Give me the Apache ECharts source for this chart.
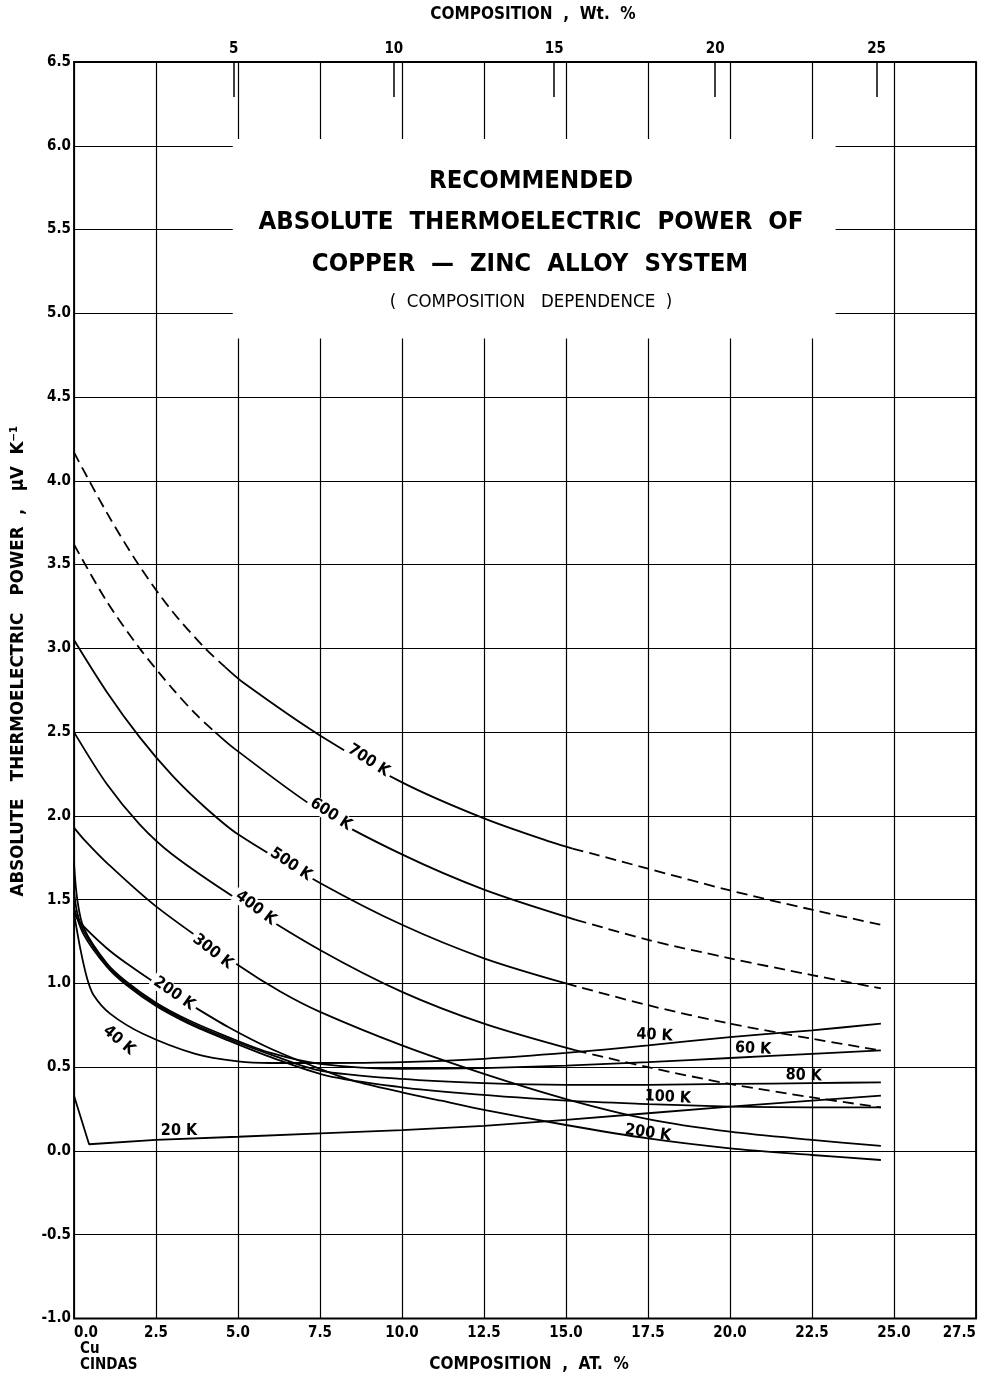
<!DOCTYPE html>
<html><head><meta charset="utf-8">
<script src="https://cdn.jsdelivr.net/npm/echarts@6/dist/echarts.min.js"></script>
<style>html,body{margin:0;padding:0;background:#fff}#c{width:996px;height:1378px}</style>
</head><body><div id="c"></div>
<script>
const FONT = '"Liberation Sans Narrow","Arial Narrow","DejaVu Sans Condensed","Liberation Sans",sans-serif';

// ---- axes ----
const xMin = 0, xMax = 27.5, xStep = 2.5;
const yMin = -1, yMax = 6.5, yStep = 0.5;
const wtTickAt = [4.87, 9.75, 14.64, 19.55, 24.47];      // at.% positions of wt.% ticks
const wtTickLabels = ['5', '10', '15', '20', '25'];

// ---- curves: [composition at.%, S (uV/K)] ----
const t700 = [[0,4.17],[1,3.81],[2,3.49],[3,3.22],[4.0,3.00],[4.6,2.89],[5.2,2.79],[7.5,2.48],[10,2.20],[12.5,1.985],[14.6,1.84],[15.2,1.805],[15.8,1.775],[17.5,1.685],[20,1.555],[22.5,1.44],[24.6,1.35]];
const t600 = [[0,3.62],[1,3.28],[2,3.00],[3,2.76],[3.7,2.61],[4.3,2.50],[4.9,2.40],[7.5,2.03],[10,1.77],[12.5,1.56],[15.3,1.38],[17.5,1.26],[20,1.15],[22.5,1.05],[24.6,0.97]];
const t500 = [[0,3.05],[1,2.74],[2,2.47],[3,2.24],[4,2.05],[5,1.89],[7.5,1.60],[10,1.35],[12.5,1.15],[15,1.00],[17.5,0.87],[20,0.76],[22.5,0.67],[24.6,0.60]];
const t400 = [[0,2.50],[1,2.19],[2,1.95],[3,1.77],[5,1.50],[7.5,1.20],[10,0.95],[12.5,0.76],[15.3,0.60],[17.5,0.50],[20,0.40],[22.5,0.32],[24.6,0.26]];
const t300 = [[0,1.93],[0.3,1.86],[1,1.72],[2.5,1.46],[5,1.11],[6.3,0.95],[7.5,0.83],[10,0.63],[12.5,0.46],[15,0.31],[17.5,0.19],[20,0.115],[22.5,0.066],[24.6,0.03]];
const t200 = [[0,1.42],[0.2,1.36],[1,1.21],[1.6,1.12],[2.5,1.00],[3.5,0.88],[4.7,0.74],[6,0.61],[7.5,0.49],[8.5,0.42],[10,0.35],[11.2,0.30],[12.5,0.245],[15,0.155],[17.5,0.075],[20,0.016],[22.5,-0.024],[24.6,-0.054]];
const t100 = [[0,1.45],[0.3,1.29],[1,1.10],[1.6,0.99],[2.5,0.865],[3.5,0.76],[4.7,0.66],[6,0.56],[7.7,0.45],[10,0.38],[11.8,0.345],[15,0.30],[17.5,0.28],[20,0.265],[22.5,0.26],[24.6,0.26]];
const t80  = [[0,1.55],[0.1,1.42],[0.3,1.31],[1,1.11],[1.6,1.00],[2.5,0.875],[3.5,0.77],[4.7,0.67],[6,0.575],[7.5,0.48],[10,0.43],[12.5,0.405],[15,0.395],[17.5,0.395],[20,0.40],[22.5,0.405],[24.6,0.41]];
const t60  = [[0,1.72],[0.1,1.50],[0.3,1.33],[1,1.12],[1.6,1.01],[2.5,0.885],[3.5,0.78],[4.7,0.68],[6,0.585],[7.5,0.52],[10,0.49],[12.5,0.495],[15,0.51],[17.5,0.53],[20,0.555],[22.5,0.58],[24.6,0.60]];
const t40  = [[0,1.42],[0.2,1.20],[0.4,1.03],[0.6,0.93],[1.1,0.82],[2.1,0.70],[3.7,0.58],[5,0.535],[6,0.525],[7.5,0.525],[10,0.53],[12.5,0.55],[15,0.585],[17.5,0.63],[20,0.68],[22.5,0.72],[24.6,0.76]];
const t20  = [[0,0.33],[0.46,0.04],[2.5,0.066],[5,0.085],[7.5,0.105],[10,0.125],[12.5,0.15],[15,0.185],[17.5,0.225],[20,0.265],[22.5,0.30],[24.6,0.33]];

// solid / dashed pieces of each curve (at.% ranges)
const seg700 = [[0,4.6,'dashed'],[4.6,15.2,'solid'],[15.2,24.6,'dashed']];
const seg600 = [[0,4.3,'dashed'],[4.3,15.3,'solid'],[15.3,24.6,'dashed']];
const seg500 = [[0,15,'solid'],[15,24.6,'dashed']];
const seg400 = [[0,15.3,'solid'],[15.3,24.6,'dashed']];
const segFull = [[0,24.6,'solid']];

// ---- curve labels ----
const curveLabelText = ['700 K','600 K','500 K','400 K','300 K','200 K','40 K','20 K','40 K','60 K','80 K','100 K','200 K'];
const curveLabelAt = [[8.98,2.33],[7.83,2.01],[6.61,1.71],[5.54,1.45],[4.23,1.19],[3.05,0.94],[1.37,0.66],[3.2,0.12],[17.7,0.69],[20.7,0.61],[22.25,0.45],[18.1,0.32],[17.5,0.107]];
const curveLabelAngle = [-33,-33,-34,-37,-38,-35,-40,0,-3,-3,-2,-3,-8];

function segSeries(pts, segs, smooth) {
  return segs.map(([a, b, kind]) => ({
    type: 'line',
    data: pts.filter(p => p[0] >= a - 1e-9 && p[0] <= b + 1e-9),
    showSymbol: false, symbol: 'none',
    smooth: smooth,
    lineStyle: { color: '#000', width: 1.8, type: kind === 'dashed' ? [11, 6] : 'solid' },
    z: 3, silent: true, animation: false
  }));
}

const series = [].concat(
  segSeries(t700, seg700, 0.3),
  segSeries(t600, seg600, 0.3),
  segSeries(t500, seg500, 0.3),
  segSeries(t400, seg400, 0.3),
  segSeries(t300, segFull, 0.3),
  segSeries(t200, segFull, 0.3),
  segSeries(t100, segFull, 0.3),
  segSeries(t80, segFull, 0.3),
  segSeries(t60, segFull, 0.3),
  segSeries(t40, segFull, 0.3),
  segSeries(t20, segFull, false)
);

// white box behind the title
series.push({
  type: 'line', data: [], silent: true, z: 2,
  markArea: { silent: true, itemStyle: { color: '#fff', opacity: 1 },
    data: [[{ coord: [4.84, 6.04] }, { coord: [23.22, 4.85] }]] }
});

// curve labels
series.push({
  type: 'scatter', symbolSize: 0, itemStyle: { color: '#000' }, z: 10, silent: true, animation: false,
  label: { show: true, position: 'inside', color: '#000', opacity: 1, textBorderWidth: 0, fontFamily: FONT, fontWeight: 'bold', fontSize: 16 },
  data: curveLabelText.map((t, i) => ({
    value: curveLabelAt[i],
    label: { formatter: t, rotate: curveLabelAngle[i],
      backgroundColor: i < 6 ? '#fff' : 'transparent', padding: i < 6 ? [0, 3] : 0 }
  }))
});

const txt = (text, x, y, size, weight, extra) => ({
  type: 'text', x: x, y: y, z: 100,
  style: Object.assign({ text: text, fill: '#000', fontFamily: FONT, fontSize: size, fontWeight: weight,
    textAlign: 'center', textVerticalAlign: 'middle', align: 'center', verticalAlign: 'middle' }, (extra || {}))
});

const chart = echarts.init(document.getElementById('c'), null, { renderer: 'canvas' });
chart.setOption({
  animation: false,
  backgroundColor: '#fff',
  grid: { left: 74, right: 20, top: 62, bottom: 59.5, show: true, borderColor: '#000', borderWidth: 1.8, backgroundColor: '#fff' },
  xAxis: [
    { type: 'value', min: xMin, max: xMax, interval: xStep, position: 'bottom',
      axisLine: { show: false }, axisTick: { show: false },
      splitLine: { show: true, lineStyle: { color: '#000', width: 1.2 } },
      axisLabel: { margin: 7, color: '#000', fontFamily: FONT, fontWeight: 'bold', fontSize: 15,
        alignMinLabel: 'left', alignMaxLabel: 'right', formatter: v => v.toFixed(1) } },
    { type: 'value', min: xMin, max: xMax, position: 'top',
      axisLine: { show: false }, splitLine: { show: false },
      axisTick: { show: true, inside: true, length: 35, customValues: wtTickAt, lineStyle: { color: '#000', width: 1.5 } },
      axisLabel: { show: true, margin: 5, customValues: wtTickAt, color: '#000', fontFamily: FONT, fontWeight: 'bold', fontSize: 15,
        formatter: v => { const i = wtTickAt.findIndex(w => Math.abs(w - v) < 1e-6); return i >= 0 ? wtTickLabels[i] : ''; } } }
  ],
  yAxis: [
    { type: 'value', min: yMin, max: yMax, interval: yStep,
      axisLine: { show: false }, axisTick: { show: false },
      splitLine: { show: true, lineStyle: { color: '#000', width: 1.2 } },
      axisLabel: { margin: 3, color: '#000', fontFamily: FONT, fontWeight: 'bold', fontSize: 15, formatter: v => v.toFixed(1) } }
  ],
  graphic: [
    txt('RECOMMENDED', 531, 181, 25.5, 'bold'),
    txt('ABSOLUTE  THERMOELECTRIC  POWER  OF', 531, 222, 25.5, 'bold'),
    txt('COPPER  —  ZINC  ALLOY  SYSTEM', 530, 264, 25.5, 'bold'),
    txt('(  COMPOSITION   DEPENDENCE  )', 531, 302, 18.5, 'normal'),
    txt('COMPOSITION  ,  Wt.  %', 533, 15, 17, 'bold'),
    txt('COMPOSITION  ,  AT.  %', 529, 1365, 17, 'bold'),
    txt('Cu', 80, 1349, 15, 'bold', { textAlign: 'left', align: 'left' }),
    txt('CINDAS', 80, 1365, 15, 'bold', { textAlign: 'left', align: 'left' }),
    Object.assign(txt('ABSOLUTE   THERMOELECTRIC   POWER  ,   μV  K⁻¹', 18, 661, 18.5, 'bold'), { rotation: Math.PI / 2 })
  ],
  series: series
});
</script>
</body></html>
